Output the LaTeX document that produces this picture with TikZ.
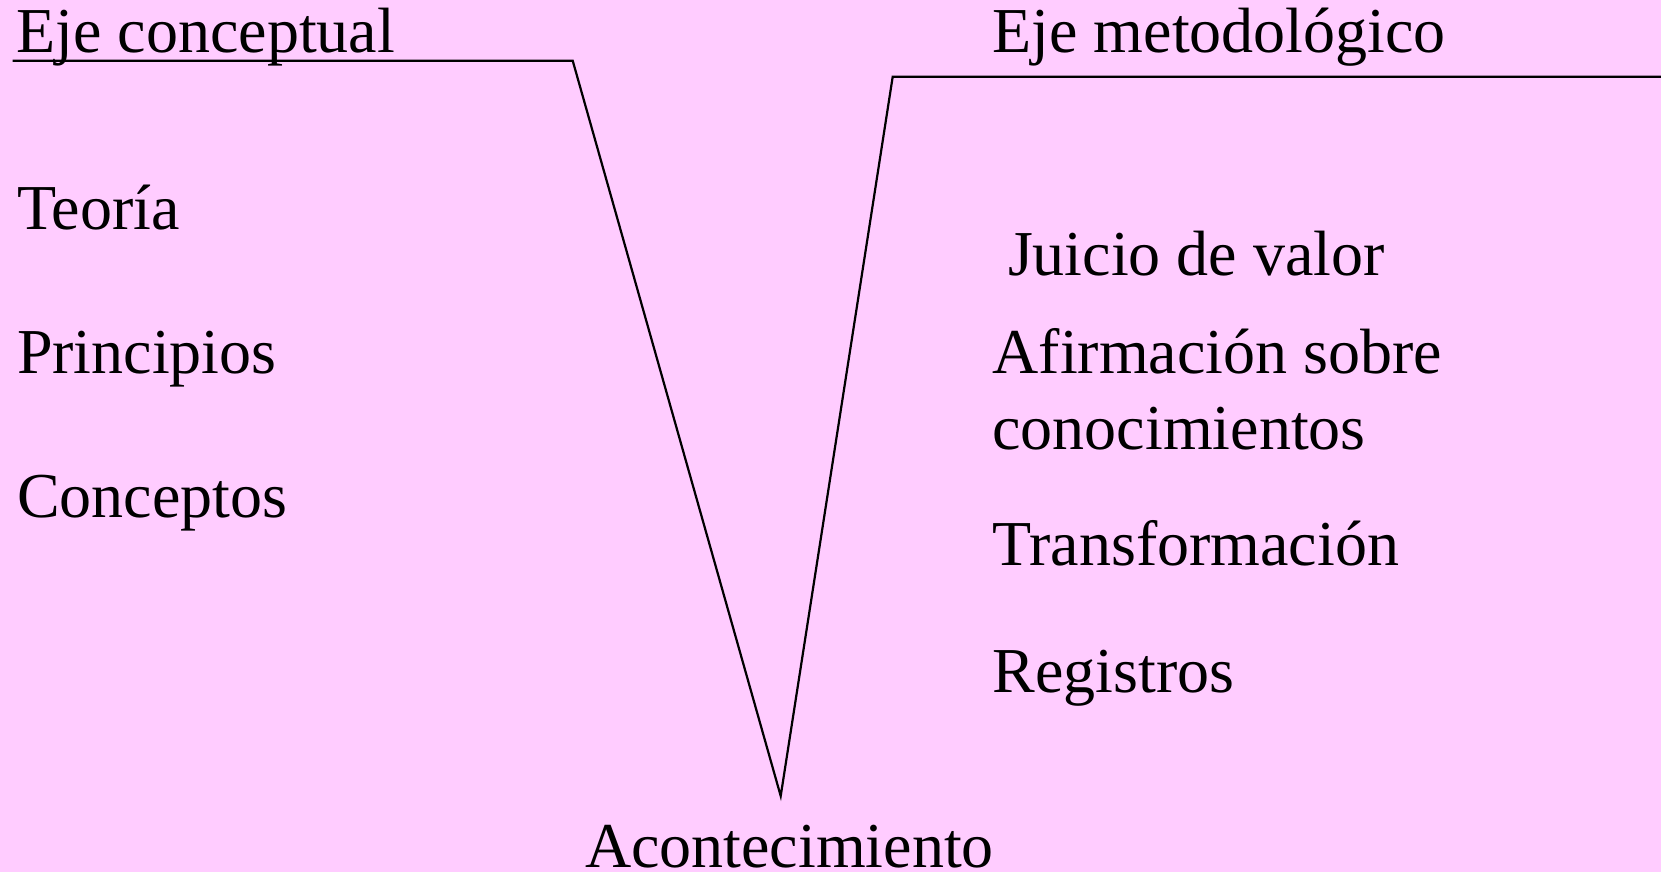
\documentclass[tikz,border=0pt]{standalone}
\usepackage{fontspec}
\setmainfont{Liberation Serif}
\definecolor{bgpink}{RGB}{255,204,255}
\tikzset{
  lbl/.style={anchor=base west, inner sep=0pt, outer sep=0pt, font=\fontsize{64}{76}\selectfont, align=left},
  vline/.style={line width=2.2pt, line join=miter, black}
}
\begin{document}
\begin{tikzpicture}[x=1pt, y=-1pt]
\fill[bgpink] (0,0) rectangle (1661,872);
\useasboundingbox (0,0) rectangle (1661,872);
% V shape corners
\coordinate (ls) at (12.7,60.7);
\coordinate (lc) at (572.7,60.7);
\coordinate (vx) at (780.7,796);
\coordinate (rc) at (892.7,76.7);
\coordinate (re) at (1661,76.7);
\draw[vline] (ls) -- (lc) -- (vx) -- (rc) -- (re);
% left texts
\node[lbl] (ejec) at (16.5,52.3) {Eje conceptual};
\node[lbl] (teo) at (17,229) {Teoría};
\node[lbl] (pri) at (17,373) {Principios};
\node[lbl] (con) at (17,517) {Conceptos};
% right texts
\node[lbl] (ejem) at (992.5,52.3) {Eje metodológico};
\node[lbl] (jui) at (1008,275) {Juicio de valor};
\node[lbl] (afi) at (992.5,373) {Afirmación sobre};
\node[lbl] (cono) at (992.5,449) {conocimientos};
\node[lbl] (tra) at (992.5,565) {Transformación};
\node[lbl] (reg) at (992.5,692) {Registros};
% bottom
\node[lbl] (aco) at (585,867) {Acontecimiento};
\end{tikzpicture}
\end{document}
